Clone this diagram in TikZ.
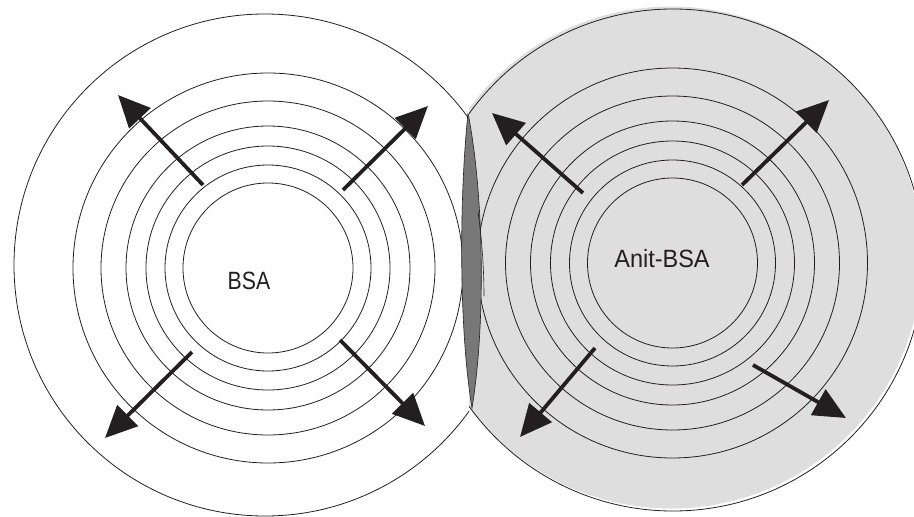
\documentclass[tikz,border=0pt]{standalone}
\usepackage{fontspec}
\setmainfont{Liberation Sans}
\usetikzlibrary{arrows.meta}
\definecolor{ink}{HTML}{231F20}
\definecolor{serum}{HTML}{DEDEDE}
\definecolor{band}{HTML}{787878}
\begin{document}
\begin{tikzpicture}[x=1pt,y=-1pt,
  ring/.style={draw=ink,line width=0.8pt},
  spread/.style={draw=ink,line width=3.8pt,
    -{Triangle[length=32pt,width=29pt]}},
  well/.style={font=\fontsize{25}{25}\selectfont,text=ink,inner sep=0pt}]
\useasboundingbox (0,0) rectangle (914,517);

% antibody well on the right: shaded disc and its diffusion rings
\begin{scope}
  \clip (469,0) rectangle (914,517);
  \fill[serum] (671,257.5) circle[radius=251];
  \draw[ring] (673,260) circle[radius=251];
  \foreach \r in {195,167,142,122,103,85}
    \draw[ring] (672.5,263) circle[radius=\r];
\end{scope}

% antigen well on the left: plain disc and its diffusion rings
\begin{scope}
  \clip (0,0) rectangle (469,517);
  \draw[ring] (265,265) circle[radius=251];
  \foreach \r in {195,167,142,122,103,85}
    \draw[ring] (268,268) circle[radius=\r];
\end{scope}

% precipitation band where the two fronts meet
\coordinate (bandtop) at (468,113);
\coordinate (bandbot) at (472,408);
\draw[ink,line width=0.6pt,fill=band]
  (bandtop) .. controls (459,200) and (459,330) .. (bandbot)
            .. controls (485,330) and (485,200) .. (bandtop);
\coordinate (strokeA) at (478,212);
\coordinate (strokeB) at (484,296);
\draw[ink,line width=0.6pt] (strokeA) .. controls (482,240) and (484,270) .. (strokeB);

% labels
\node[well] (bsa) at (249,281) {\scalebox{0.85}[1]{BSA}};
\node[well] (antibsa) at (662,259) {\scalebox{0.94}[1]{Anit-BSA}};

% outward diffusion arrows, left well
\coordinate (l1s) at (203,185); \coordinate (l1e) at (118,95);
\coordinate (l2s) at (343,190); \coordinate (l2e) at (428,106);
\coordinate (l3s) at (192,352); \coordinate (l3e) at (105,438);
\coordinate (l4s) at (340,340); \coordinate (l4e) at (425,426);
% outward diffusion arrows, right well
\coordinate (r1s) at (583,193); \coordinate (r1e) at (492,113);
\coordinate (r2s) at (742,185); \coordinate (r2e) at (829,100);
\coordinate (r3s) at (595,348); \coordinate (r3e) at (520,437);
\coordinate (r4s) at (753,365); \coordinate (r4e) at (846,418);
\foreach \a in {l1,l2,l3,l4,r1,r2,r3,r4}
  \draw[spread] (\a s) -- (\a e);
\end{tikzpicture}
\end{document}
